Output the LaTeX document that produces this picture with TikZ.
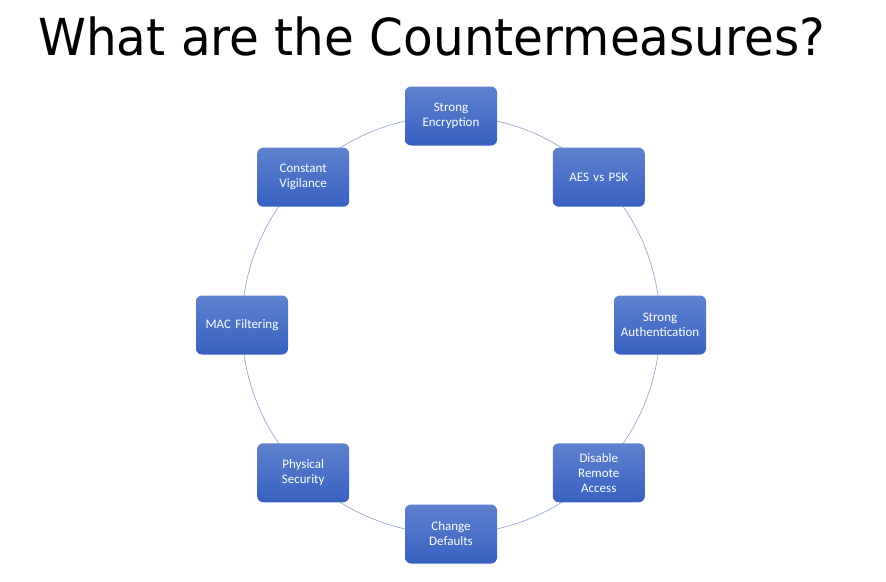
\documentclass[tikz,border=0pt]{standalone}
\usepackage{fontspec}
\setmainfont{Carlito}
\newfontfamily\titlefont{DejaVu Sans}
\definecolor{boxtop}{RGB}{95,129,206}
\definecolor{boxbot}{RGB}{55,96,192}
\definecolor{ring}{RGB}{140,160,205}
\begin{document}
\begin{tikzpicture}[x=1pt,y=-1pt,line join=round,line cap=round,
	box/.style={rounded corners=6pt,top color=boxtop,bottom color=boxbot,draw=none,
		minimum width=92pt,minimum height=59pt,text width=84pt,align=center,
		text=white,font=\fontsize{13}{15}\selectfont}]
	\useasboundingbox (0,0) rectangle (886,581);
	\fill[white] (0,0) rectangle (886,581);
	\path 
	(451,325) coordinate (O)
	;
	\node[anchor=base west,inner sep=0pt,xscale=0.951,transform shape,
		font=\titlefont\fontsize{51}{51}\selectfont] (title) at (38,55) {What are the Countermeasures?};
	\draw[ring,line width=0.6pt] (O) circle (209pt);
	\foreach \a/\n/\t in {90/enc/{Strong\\Encryption},45/aes/{AES vs PSK},
		0/auth/{Strong\\Authentication},-45/remote/{Disable\\Remote\\Access},
		-90/defaults/{Change\\Defaults},-135/phys/{Physical\\Security},
		180/mac/{MAC Filtering},135/vig/{Constant\\Vigilance}}
	\node[box] (\n) at ([shift={(\a:209pt)}]O) {\t};
\end{tikzpicture}
\end{document}
